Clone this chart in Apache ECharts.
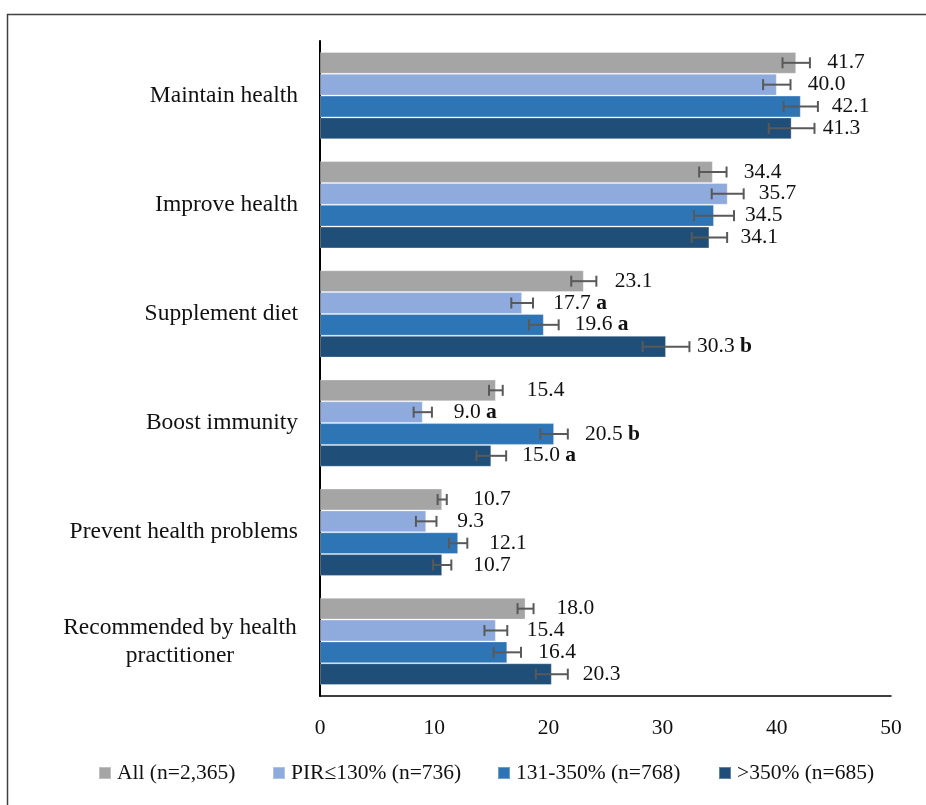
<!DOCTYPE html>
<html>
<head>
<meta charset="utf-8">
<script src="https://cdn.jsdelivr.net/npm/echarts@6/dist/echarts.min.js"></script>
<style>
html,body{margin:0;padding:0;background:#fff;}
#chart{width:926px;height:805px;}
</style>
</head>
<body>
<div id="chart"></div>
<script>
var categories = ['Maintain health','Improve health','Supplement diet','Boost immunity','Prevent health problems','Recommended by health practitioner'];
var seriesNames = ['All (n=2,365)','PIR\u2264130% (n=736)','131-350% (n=768)','>350% (n=685)'];
var allVals  = [41.7, 34.4, 23.1, 15.4, 10.7, 18.0];
var pirVals  = [40.0, 35.7, 17.7, 9.0, 9.3, 15.4];
var midVals  = [42.1, 34.5, 19.6, 20.5, 12.1, 16.4];
var highVals = [41.3, 34.1, 30.3, 15.0, 10.7, 20.3];
var allErr  = [1.2, 1.2, 1.1, 0.6, 0.4, 0.7];
var pirErr  = [1.2, 1.4, 0.95, 0.8, 0.9, 1.0];
var midErr  = [1.5, 1.75, 1.3, 1.2, 0.8, 1.2];
var highErr = [2.0, 1.55, 2.05, 1.3, 0.8, 1.4];
var allSig  = ['', '', '', '', '', ''];
var pirSig  = ['', '', 'a', 'a', '', ''];
var midSig  = ['', '', 'a', 'b', '', ''];
var highSig = ['', '', 'b', 'a', '', ''];
var xTicks = [0, 10, 20, 30, 40, 50];

var colors = ['#A5A5A5', '#8FAADC', '#2E75B6', '#1F4E79'];
var valueSets = [allVals, pirVals, midVals, highVals];
var errSets = [allErr, pirErr, midErr, highErr];
var sigSets = [allSig, pirSig, midSig, highSig];
var FONT = '"Liberation Serif", "DejaVu Serif", serif';
var NS = valueSets.length;
var GAP = 0.2;

var chart = echarts.init(document.getElementById('chart'), null, {renderer: 'canvas'});

var series = valueSets.map(function (vals, s) {
  return {
    name: seriesNames[s],
    type: 'bar',
    barGap: '0%',
    barCategoryGap: '20%',
    itemStyle: {color: colors[s], borderColor: 'rgba(255,255,255,0.3)', borderWidth: 1},
    label: {
      show: true,
      position: 'right',
      distance: 31,
      color: '#111',
      fontFamily: FONT,
      fontSize: 21.5,
      formatter: function (p) {
        var t = Number(p.value).toFixed(1);
        var sig = sigSets[s][p.dataIndex];
        return sig ? t + ' {b|' + sig + '}' : t;
      },
      rich: {b: {fontWeight: 'bold', fontFamily: FONT, fontSize: 21.5, color: '#111'}}
    },
    data: vals
  };
});

var errData = [];
valueSets.forEach(function (vals, s) {
  vals.forEach(function (v, i) {
    errData.push([v, i, errSets[s][i], s]);
  });
});

series.push({
  type: 'custom',
  name: 'err',
  z: 10,
  silent: true,
  encode: {x: 0, y: 1},
  renderItem: function (params, api) {
    var v = api.value(0), ci = api.value(1), e = api.value(2), s = api.value(3);
    var band = api.size([0, 1])[1];
    var barH = band * (1 - GAP) / NS;
    var cy = api.coord([v, ci])[1];
    var y = cy - band * (1 - GAP) / 2 + barH * (s + 0.5);
    var x1 = api.coord([v - e, ci])[0];
    var x2 = api.coord([v + e, ci])[0];
    var cap = 5.5;
    var st = {stroke: '#595959', lineWidth: 2};
    return {
      type: 'group',
      children: [
        {type: 'line', shape: {x1: x1, y1: y, x2: x2, y2: y}, style: st},
        {type: 'line', shape: {x1: x1, y1: y - cap, x2: x1, y2: y + cap}, style: st},
        {type: 'line', shape: {x1: x2, y1: y - cap, x2: x2, y2: y + cap}, style: st}
      ]
    };
  },
  data: errData
});

var legendLefts = [93, 267, 492, 713];
var legends = seriesNames.map(function (n, i) {
  return {
    data: [n],
    left: legendLefts[i],
    top: 757,
    icon: 'rect',
    itemWidth: 12,
    itemHeight: 12,
    itemGap: 0,
    selectedMode: false,
    textStyle: {fontFamily: FONT, fontSize: 21.5, color: '#111', padding: [0, 0, 0, 1]}
  };
});

chart.setOption({
  animation: false,
  backgroundColor: '#fff',
  graphic: [{
    type: 'rect',
    left: 5, top: 12,
    shape: {x: 0, y: 0, width: 1000, height: 1000},
    style: {fill: 'none', stroke: '#404040', lineWidth: 1.5},
    z: 100
  }],
  grid: {left: 320, right: 35, top: 41, bottom: 109},
  legend: legends,
  xAxis: {
    type: 'value',
    min: xTicks[0],
    max: xTicks[xTicks.length - 1],
    interval: 10,
    axisLine: {show: true, lineStyle: {color: '#000', width: 1.5}},
    axisTick: {show: false},
    splitLine: {show: false},
    axisLabel: {fontFamily: FONT, fontSize: 21.5, color: '#111', margin: 21}
  },
  yAxis: {
    type: 'category',
    inverse: true,
    data: categories,
    axisLine: {show: true, lineStyle: {color: '#000', width: 2}},
    axisTick: {show: false},
    axisLabel: {
      fontFamily: FONT,
      fontSize: 23.5,
      color: '#111',
      margin: 22,
      formatter: function (v) {
        if (v === 'Recommended by health practitioner') {
          return '{c|Recommended by health}\n{c|practitioner}';
        }
        return v;
      },
      rich: {c: {width: 236, align: 'center', fontFamily: FONT, fontSize: 23.5, color: '#111', lineHeight: 28}}
    }
  },
  series: series
});
</script>
</body>
</html>
